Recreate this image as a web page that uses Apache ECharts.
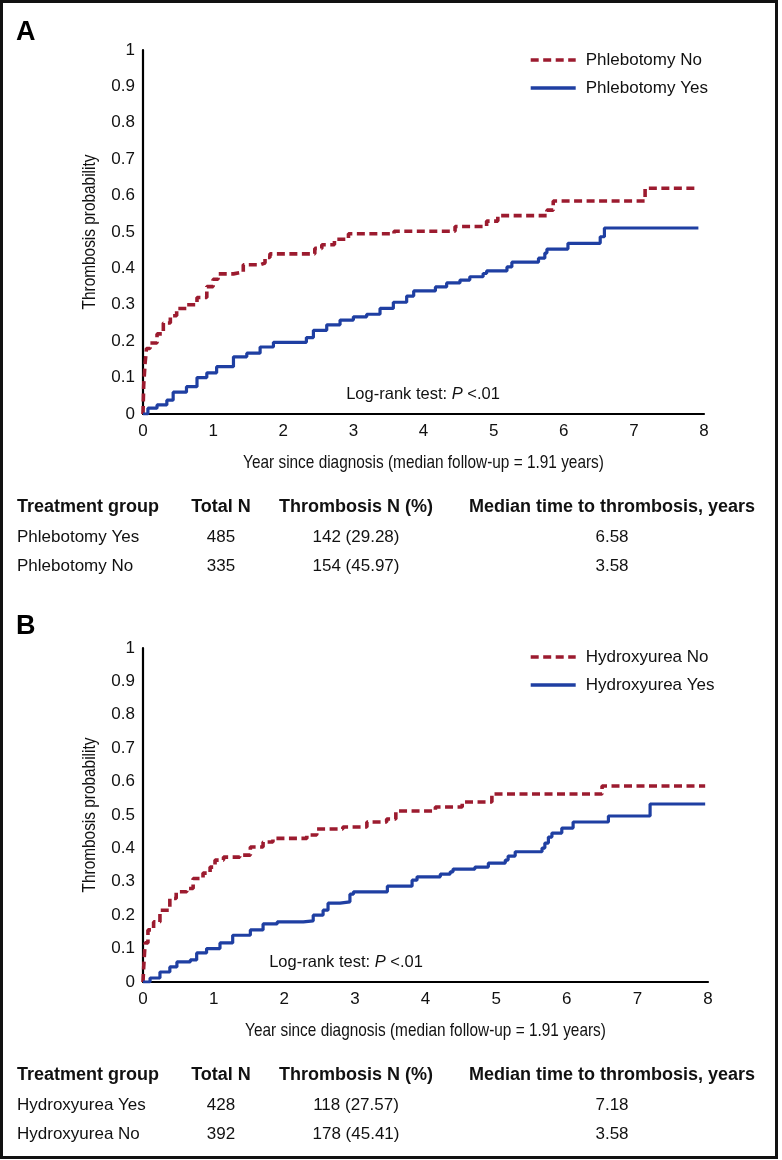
<!DOCTYPE html>
<html><head><meta charset="utf-8">
<script src="https://cdn.jsdelivr.net/npm/echarts@6/dist/echarts.min.js"></script>
<style>html,body{margin:0;padding:0;background:#fff}#c{width:782px;height:1160px}</style>
</head><body><div id="c"></div>
<script>
// ---------- data ----------
const xTicks = [0, 1, 2, 3, 4, 5, 6, 7, 8];
const yTicks = [0, 0.1, 0.2, 0.3, 0.4, 0.5, 0.6, 0.7, 0.8, 0.9, 1];

const seriesNamesA = ['Phlebotomy No', 'Phlebotomy Yes'];
const seriesNamesB = ['Hydroxyurea No', 'Hydroxyurea Yes'];

const phlebNoTime = [0, 0.01, 0.03, 0.05, 0.1, 0.2, 0.29, 0.39, 0.48, 0.62, 0.77, 0.91, 1.0, 1.07, 1.29, 1.43, 1.67, 1.74, 1.81, 2.45, 2.55, 2.73, 2.93, 3.58, 4.45, 4.9, 5.06, 5.76, 5.85, 7.16, 7.92];
const phlebNoProb = [0, 0.08, 0.14, 0.18, 0.195, 0.22, 0.25, 0.27, 0.29, 0.30, 0.32, 0.35, 0.37, 0.385, 0.39, 0.41, 0.415, 0.43, 0.44, 0.455, 0.465, 0.48, 0.495, 0.502, 0.515, 0.53, 0.545, 0.56, 0.585, 0.62, 0.62];

const phlebYesTime = [0, 0.07, 0.2, 0.34, 0.43, 0.62, 0.77, 0.91, 1.05, 1.29, 1.48, 1.67, 1.86, 2.33, 2.43, 2.62, 2.81, 3.0, 3.19, 3.38, 3.57, 3.76, 3.86, 4.17, 4.33, 4.52, 4.66, 4.85, 4.9, 5.19, 5.26, 5.64, 5.73, 5.76, 6.06, 6.52, 6.58, 7.92];
const phlebYesProb = [0, 0.016, 0.025, 0.038, 0.06, 0.075, 0.10, 0.113, 0.13, 0.157, 0.167, 0.184, 0.197, 0.21, 0.23, 0.245, 0.258, 0.267, 0.274, 0.29, 0.307, 0.324, 0.338, 0.349, 0.36, 0.368, 0.377, 0.386, 0.393, 0.404, 0.417, 0.428, 0.442, 0.453, 0.469, 0.487, 0.511, 0.511];

const hydroxNoTime = [0, 0.01, 0.03, 0.07, 0.15, 0.24, 0.38, 0.47, 0.62, 0.71, 0.85, 0.95, 1.02, 1.14, 1.37, 1.52, 1.7, 1.84, 2.32, 2.46, 2.83, 3.17, 3.45, 3.58, 4.14, 4.52, 4.94, 6.5, 7.96];
const hydroxNoProb = [0, 0.045, 0.117, 0.156, 0.18, 0.215, 0.25, 0.27, 0.28, 0.31, 0.326, 0.344, 0.365, 0.374, 0.38, 0.404, 0.419, 0.43, 0.44, 0.458, 0.464, 0.479, 0.488, 0.512, 0.524, 0.539, 0.563, 0.587, 0.587];

const hydroxYesTime = [0, 0.1, 0.24, 0.38, 0.48, 0.67, 0.76, 0.9, 1.09, 1.27, 1.52, 1.7, 1.9, 2.27, 2.41, 2.55, 2.62, 2.79, 2.93, 2.98, 3.46, 3.81, 3.88, 4.21, 4.35, 4.39, 4.7, 4.89, 5.13, 5.17, 5.27, 5.65, 5.69, 5.74, 5.79, 5.93, 6.09, 6.59, 7.18, 7.96];
const hydroxYesProb = [0, 0.012, 0.03, 0.045, 0.06, 0.066, 0.087, 0.10, 0.117, 0.14, 0.156, 0.174, 0.18, 0.183, 0.2, 0.215, 0.236, 0.24, 0.263, 0.27, 0.287, 0.305, 0.315, 0.323, 0.33, 0.338, 0.344, 0.356, 0.365, 0.377, 0.39, 0.401, 0.416, 0.434, 0.446, 0.461, 0.479, 0.497, 0.533, 0.533];

const tableHeader = ['Treatment group', 'Total N', 'Thrombosis N (%)', 'Median time to thrombosis, years'];
const tableRowsA = [
  ['Phlebotomy Yes', '485', '142 (29.28)', '6.58'],
  ['Phlebotomy No', '335', '154 (45.97)', '3.58']
];
const tableRowsB = [
  ['Hydroxyurea Yes', '428', '118 (27.57)', '7.18'],
  ['Hydroxyurea No', '392', '178 (45.41)', '3.58']
];
const panelLabels = ['A', 'B'];
const xTitle = 'Year since diagnosis (median follow-up = 1.91 years)';
const yTitle = 'Thrombosis probability';

// ---------- styles ----------
const RED = '#9c1b2f';
const BLUE = '#1f3fa2';
const FONT = '"Liberation Sans", Arial, Helvetica, sans-serif';
const CONDENSED_SCALE = 0.81; // emulate the condensed face of the axis titles

function zip(t, p) { return t.map((v, i) => [v, p[i]]); }

const grids = [
  { left: 143, top: 50, width: 561, height: 364 },
  { left: 143, top: 648, width: 565, height: 334 }
];

function xAxisDef(gi) {
  return {
    type: 'value', gridIndex: gi,
    min: xTicks[0], max: xTicks[xTicks.length - 1], interval: xTicks[1] - xTicks[0],
    axisLine: { show: true, lineStyle: { color: '#000', width: 2.2 } },
    axisTick: { show: false }, splitLine: { show: false },
    axisLabel: { margin: 9, fontSize: 17, color: '#111', fontFamily: FONT }
  };
}
function yAxisDef(gi) {
  return {
    type: 'value', gridIndex: gi,
    min: yTicks[0], max: yTicks[yTicks.length - 1], interval: yTicks[1] - yTicks[0],
    axisLine: { show: true, lineStyle: { color: '#000', width: 2.2 } },
    axisTick: { show: false }, splitLine: { show: false },
    axisLabel: { margin: 8, fontSize: 17, color: '#111', fontFamily: FONT,
      formatter: v => String(Math.round(v * 10) / 10) }
  };
}
function kmSeries(name, gi, t, p, color, dashed) {
  return {
    type: 'line', name, xAxisIndex: gi, yAxisIndex: gi,
    step: 'end', symbol: 'none', showSymbol: false,
    data: zip(t, p),
    lineStyle: { color, width: dashed ? 3.6 : 3.2, type: dashed ? [8, 4.5] : 'solid' },
    itemStyle: { color },
    emphasis: { disabled: true }
  };
}
function legendDef(names, top) {
  return {
    data: names, orient: 'vertical', left: 529, top, padding: 0,
    itemWidth: 45, itemHeight: 14, itemGap: 11, selectedMode: false,
    itemStyle: { opacity: 0 },
    lineStyle: { width: 3.4 },
    textStyle: { fontSize: 17, color: '#111', fontFamily: FONT, padding: [0, 0, 0, 5] }
  };
}

// table graphics
const colX = [17, 221, 356, 612];
function tableGraphics(rows, headerY) {
  const g = [];
  tableHeader.forEach((h, i) => {
    g.push({ type: 'text', x: colX[i], y: headerY,
      style: { text: h, font: 'bold 18px ' + FONT, fill: '#111',
        align: i === 0 ? 'left' : 'center', verticalAlign: 'middle' } });
  });
  rows.forEach((r, ri) => {
    r.forEach((cell, i) => {
      g.push({ type: 'text', x: colX[i], y: headerY + 30 * (ri + 1) - (ri ? 1 : 0),
        style: { text: cell, font: '17px ' + FONT, fill: '#111',
          align: i === 0 ? 'left' : 'center', verticalAlign: 'middle' } });
    });
  });
  return g;
}
function logRank(x, y) {
  return { type: 'text', x, y,
    style: { text: '{a|Log-rank test: }{b|P}{a| <.01}', align: 'center', verticalAlign: 'middle',
      rich: { a: { fontSize: 16.5, fontFamily: FONT, fill: '#111', color: '#111' },
              b: { fontSize: 16.5, fontFamily: FONT, fontStyle: 'italic', fill: '#111', color: '#111' } } } };
}
function axisTitles(grid, xTitleY, yTitleX) {
  return [
    { type: 'text', x: grid.left + grid.width / 2, y: xTitleY, scaleX: CONDENSED_SCALE,
      style: { text: xTitle, font: '19px ' + FONT, fill: '#111', align: 'center', verticalAlign: 'middle' } },
    { type: 'text', x: yTitleX, y: grid.top + grid.height / 2, rotation: Math.PI / 2, scaleX: CONDENSED_SCALE,
      style: { text: yTitle, font: '19px ' + FONT, fill: '#111', align: 'center', verticalAlign: 'middle' } }
  ];
}

const graphics = [
  { type: 'rect', shape: { x: 1.5, y: 1.5, width: 775, height: 1156 },
    style: { fill: 'none', stroke: '#111', lineWidth: 3 }, z: 100 },
  { type: 'text', x: 16, y: 33, style: { text: panelLabels[0], font: 'bold 27px ' + FONT, fill: '#000', verticalAlign: 'middle' } },
  { type: 'text', x: 16, y: 627, style: { text: panelLabels[1], font: 'bold 27px ' + FONT, fill: '#000', verticalAlign: 'middle' } },
  logRank(423, 394),
  logRank(346, 962),
  ...axisTitles(grids[0], 463, 90),
  ...axisTitles(grids[1], 1031, 90),
  ...tableGraphics(tableRowsA, 507),
  ...tableGraphics(tableRowsB, 1075)
];

const chart = echarts.init(document.getElementById('c'), null, { renderer: 'canvas' });
chart.setOption({
  animation: false,
  backgroundColor: '#fff',
  grid: grids,
  xAxis: [xAxisDef(0), xAxisDef(1)],
  yAxis: [yAxisDef(0), yAxisDef(1)],
  legend: [legendDef(seriesNamesA, 51.5), legendDef(seriesNamesB, 648.5)],
  series: [
    kmSeries(seriesNamesA[0], 0, phlebNoTime, phlebNoProb, RED, true),
    kmSeries(seriesNamesA[1], 0, phlebYesTime, phlebYesProb, BLUE, false),
    kmSeries(seriesNamesB[0], 1, hydroxNoTime, hydroxNoProb, RED, true),
    kmSeries(seriesNamesB[1], 1, hydroxYesTime, hydroxYesProb, BLUE, false)
  ],
  graphic: graphics
});
</script>
</body></html>
